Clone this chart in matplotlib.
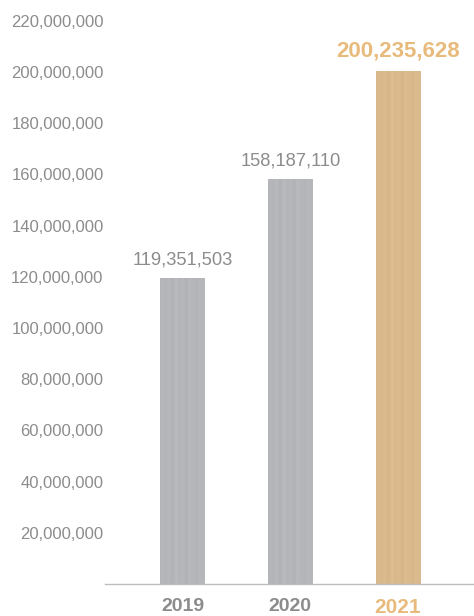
import matplotlib

matplotlib.use("Agg")
import matplotlib.pyplot as plt
import numpy as np
from matplotlib.ticker import FuncFormatter

plt.rcParams["font.family"] = ["Liberation Sans", "DejaVu Sans"]

years = ["2019", "2020", "2021"]
values = [119351503, 158187110, 200235628]
y_ticks = [20000000, 40000000, 60000000, 80000000, 100000000,
           120000000, 140000000, 160000000, 180000000, 200000000, 220000000]

GRAY_TXT = "#8c8c8c"
GOLD_TXT = "#e8bb7c"
bar_base = ["#b4b5b9", "#b4b5b9", "#d9b88c"]

# fixed stripe pattern for the brushed texture (style only)
stripe = np.array([0.0, 0.4, -0.3, 0.6, 0.2, -0.5, 0.3, 0.8, -0.2, 0.1,
                   0.5, -0.6, 0.2, 0.7, -0.1, 0.4, -0.4, 0.6, 0.0, 0.3])

fig = plt.figure(figsize=(4.74, 6.16), dpi=100)
ax = fig.add_axes([105 / 474, 32 / 616, 369 / 474, 574 / 616])

x = np.arange(len(years))
bars = ax.bar(x, values, width=0.41, color=bar_base, zorder=2)

for b, c in zip(bars, bar_base):
    rgb = np.array(matplotlib.colors.to_rgb(c))
    tex = np.clip(rgb[None, None, :] + stripe[None, :, None] * 0.035, 0, 1)
    im = ax.imshow(tex, extent=[b.get_x(), b.get_x() + b.get_width(), 0, b.get_height()],
                   aspect="auto", interpolation="bicubic", zorder=3)
    im.set_clip_path(b)

ax.set_xlim(-0.72, 2.706)
ax.set_ylim(0, 224.2e6)

for i, v in enumerate(values):
    last = i == len(values) - 1
    ax.annotate(f"{v:,}", (x[i], v), xytext=(0, 7), textcoords="offset points",
                ha="center", va="bottom",
                fontsize=16 if last else 13.2,
                fontweight="bold" if last else "normal",
                color=GOLD_TXT if last else GRAY_TXT)

ax.set_yticks(y_ticks)
ax.yaxis.set_major_formatter(FuncFormatter(lambda v, _: f"{int(v):,}"))
ax.tick_params(axis="y", length=0, pad=1, labelsize=12, labelcolor=GRAY_TXT)

ax.set_xticks(x)
ax.set_xticklabels(years)
ax.tick_params(axis="x", length=0, pad=10)
for i, lab in enumerate(ax.get_xticklabels()):
    last = i == len(years) - 1
    lab.set_fontweight("bold")
    lab.set_fontsize(15 if last else 14)
    lab.set_color(GOLD_TXT if last else GRAY_TXT)

for s in ["left", "right", "top"]:
    ax.spines[s].set_visible(False)
ax.spines["bottom"].set_color("#bdbdbd")
ax.spines["bottom"].set_linewidth(1)
ax.spines["bottom"].set_zorder(4)

fig.savefig("out.png", dpi=100)
